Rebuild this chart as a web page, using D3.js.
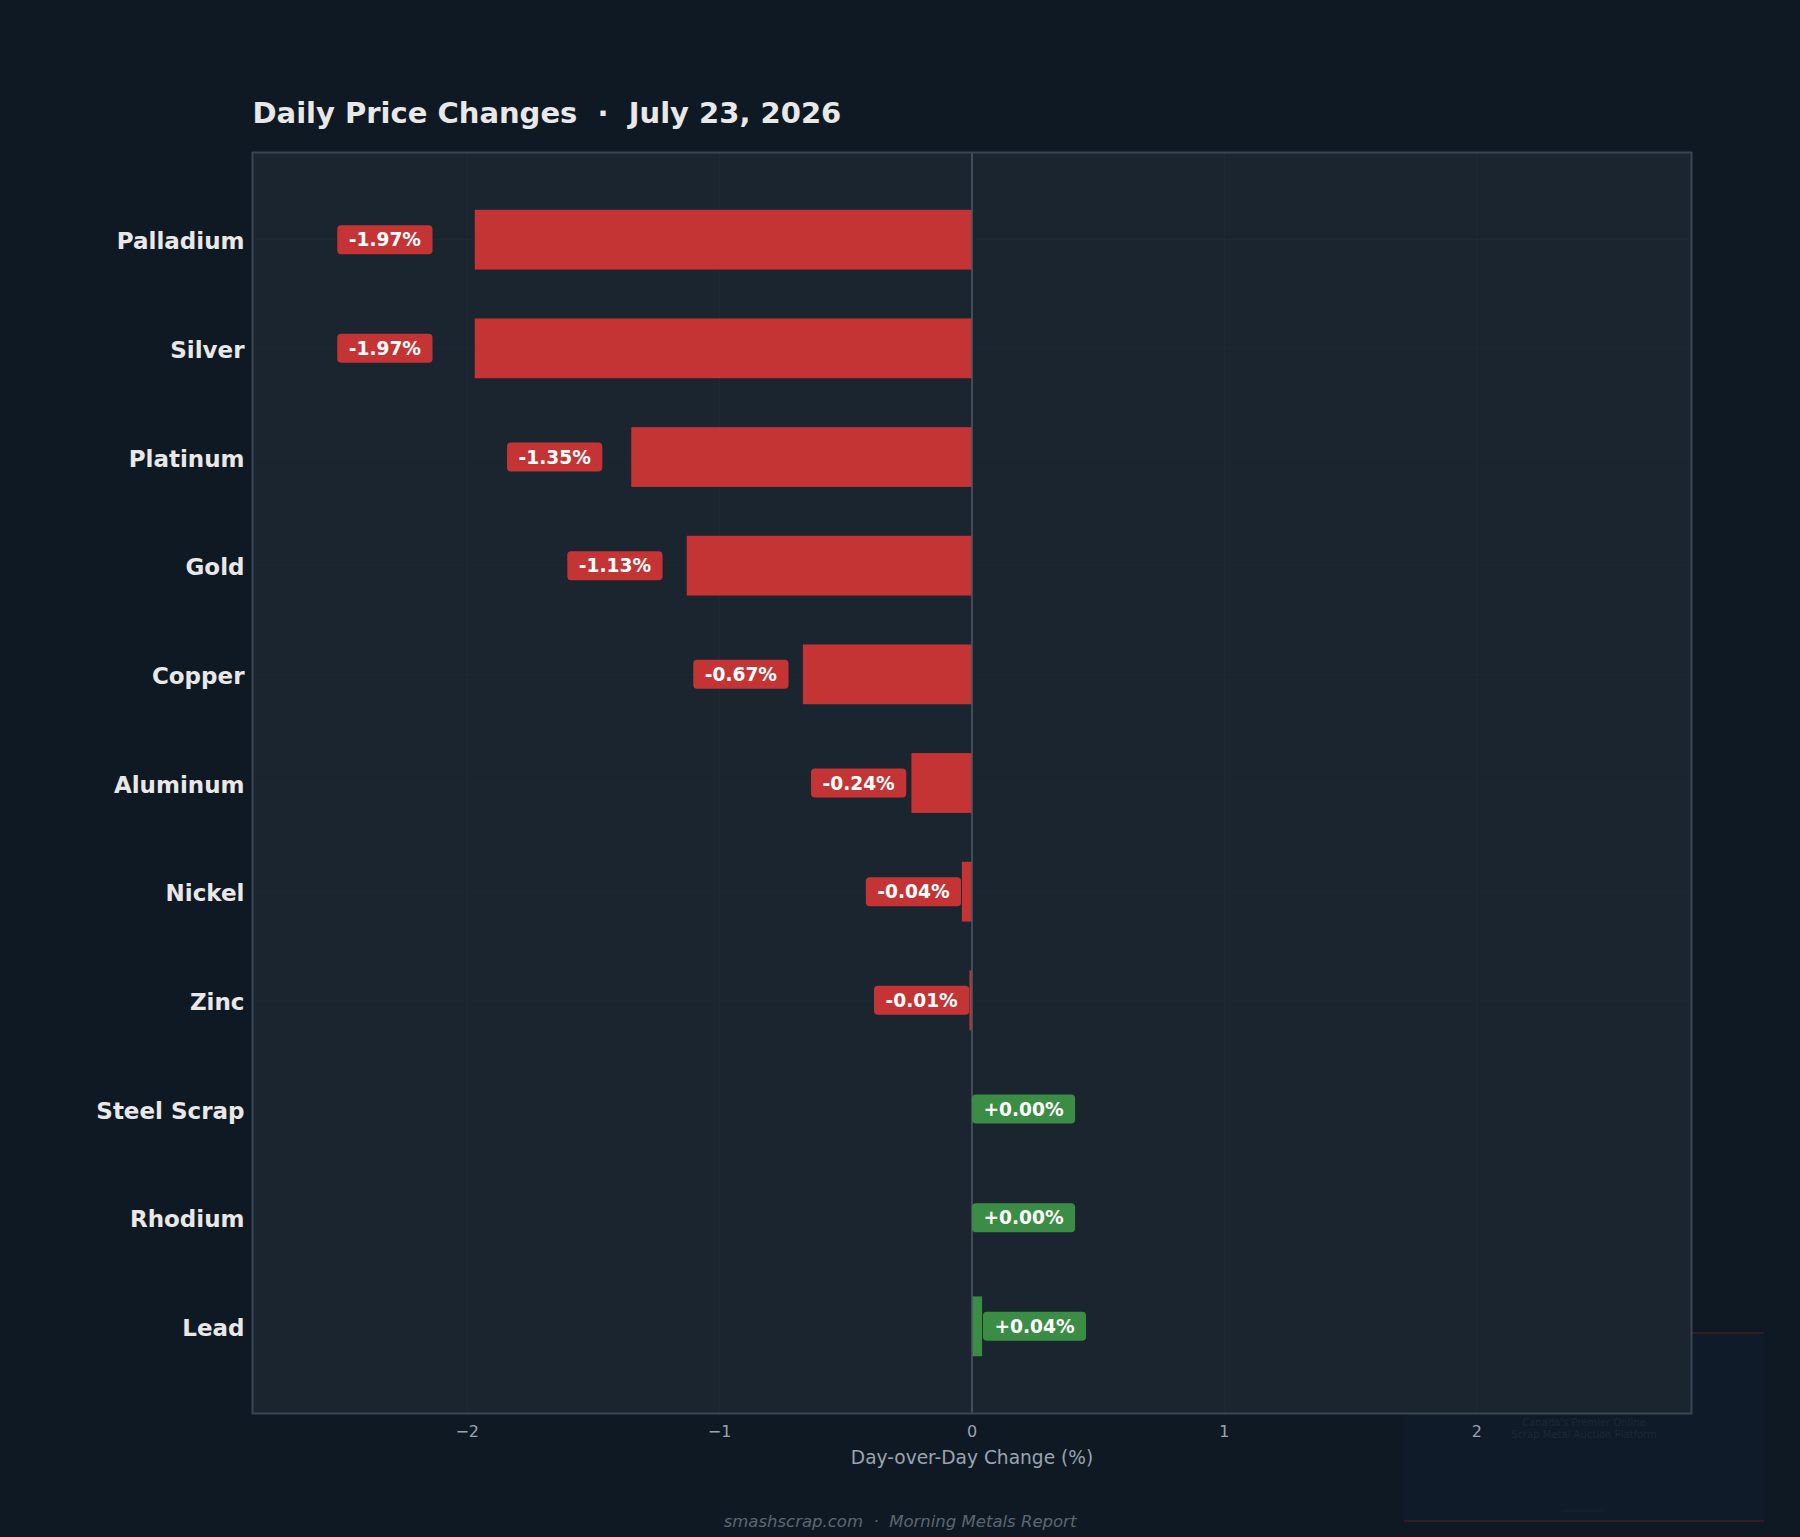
<!DOCTYPE html>
<html>
<head>
<meta charset="utf-8">
<script src="https://cdn.jsdelivr.net/npm/d3@7"></script>
<style>
  body { margin: 0; background: #0f1923; }
  svg { display: block; font-family: "DejaVu Sans", sans-serif; }
</style>
</head>
<body>
<div id="chart"></div>
<script>
// data, top to bottom
const metals = ["Palladium", "Silver", "Platinum", "Gold", "Copper", "Aluminum",
    "Nickel", "Zinc", "Steel Scrap", "Rhodium", "Lead"]
const changes = [-1.97, -1.97, -1.35, -1.13, -0.67, -0.24, -0.04, -0.01, 0.00, 0.00, 0.04]
const xTicks = [-2, -1, 0, 1, 2]
const titleText = "Daily Price Changes  \u00b7  July 23, 2026"
const xLabel = "Day-over-Day Change (%)"
const footerText = "smashscrap.com  \u00b7  Morning Metals Report"

const W = 1800, H = 1537
const margin = { top: 152.5, left: 252.5, right: 108.5, bottom: 123.5 }
const width = W - margin.left - margin.right
const height = H - margin.top - margin.bottom

const RED = "#c53434", GREEN = "#3b8c44"

const svg = d3.select('#chart')
    .append('svg')
    .attr('width', W)
    .attr('height', H)

svg.append('rect').attr('width', W).attr('height', H).attr('fill', '#0f1923')

// faint watermark panel (sits behind the plot)
const wm = svg.append('g')
wm.append('rect')
    .attr('x', 1404).attr('y', 1333).attr('width', 360).attr('height', 188)
    .attr('fill', '#0f1b28')
wm.append('line').attr('x1', 1404).attr('x2', 1764).attr('y1', 1333).attr('y2', 1333)
    .attr('stroke', '#321c26').attr('stroke-width', 2)
wm.append('line').attr('x1', 1404).attr('x2', 1764).attr('y1', 1521).attr('y2', 1521)
    .attr('stroke', '#321c26').attr('stroke-width', 2)
wm.append('text').attr('x', 1584).attr('y', 1426).attr('text-anchor', 'middle')
    .style('font-size', '10px').attr('fill', '#1c2835').text("Canada's Premier Online")
wm.append('text').attr('x', 1584).attr('y', 1438).attr('text-anchor', 'middle')
    .style('font-size', '10px').attr('fill', '#1c2835').text("Scrap Metal Auction Platform")
wm.append('text').attr('x', 1584).attr('y', 1512).attr('text-anchor', 'middle')
    .style('font-size', '5px').attr('fill', '#1c2835').text("smashscrap.com")

const g = svg.append('g')
    .attr('transform', `translate(${margin.left}, ${margin.top})`)

const maxAbs = d3.max(changes, d => Math.abs(d))
const xScale = d3.scaleLinear().domain([-maxAbs * 1.447, maxAbs * 1.447]).range([0, width])
const barH = 0.55
const span = metals.length - 1 + barH
const yScale = d3.scaleLinear()
    .domain([-barH / 2 - 0.05 * span, metals.length - 1 + barH / 2 + 0.05 * span])
    .range([0, height])

// plot background
g.append('rect').attr('width', width).attr('height', height).attr('fill', '#1b2530')

// grid (very faint)
g.append('g').selectAll('line').data(xTicks).join('line')
    .attr('x1', d => xScale(d)).attr('x2', d => xScale(d))
    .attr('y1', 0).attr('y2', height)
    .attr('stroke', '#1f2a34').attr('stroke-width', 1)
g.append('g').selectAll('line').data(metals).join('line')
    .attr('x1', 0).attr('x2', width)
    .attr('y1', (d, i) => yScale(i)).attr('y2', (d, i) => yScale(i))
    .attr('stroke', '#1e2933').attr('stroke-width', 1)

// bars
g.append('g').selectAll('rect').data(changes).join('rect')
    .attr('x', d => xScale(Math.min(0, d)))
    .attr('width', d => Math.abs(xScale(d) - xScale(0)))
    .attr('y', (d, i) => yScale(i - barH / 2))
    .attr('height', yScale(barH) - yScale(0))
    .attr('fill', d => d < 0 ? RED : GREEN)

// zero line
g.append('line')
    .attr('x1', xScale(0)).attr('x2', xScale(0))
    .attr('y1', 0).attr('y2', height)
    .attr('stroke', '#4b5663').attr('stroke-width', 1.6)

// value labels as pills
const fmt = d => (d < 0 ? '-' : '+') + Math.abs(d).toFixed(2) + '%'
const labels = g.append('g').selectAll('g').data(changes).join('g')
labels.each(function (d, i) {
    const lg = d3.select(this)
    const t = lg.append('text')
        .attr('y', yScale(i))
        .attr('dy', '0.36em')
        .style('font-size', '18.6px')
        .style('font-weight', 'bold')
        .attr('fill', '#ffffff')
        .text(fmt(d))
    const tw = t.node().getComputedTextLength()
    const padX = 11.5, boxH = 29
    const edge = xScale(d * 1.085)
    const bx = d < 0 ? edge - tw - 2 * padX : edge
    t.attr('x', bx + padX)
    lg.insert('rect', 'text')
        .attr('x', bx).attr('y', yScale(i) - boxH / 2)
        .attr('width', tw + 2 * padX).attr('height', boxH)
        .attr('rx', 4)
        .attr('fill', d < 0 ? RED : GREEN)
})

// frame
g.append('rect').attr('width', width).attr('height', height)
    .attr('fill', 'none').attr('stroke', '#3a4654').attr('stroke-width', 2)

// y labels
g.append('g').selectAll('text').data(metals).join('text')
    .attr('x', -8)
    .attr('y', (d, i) => yScale(i))
    .attr('dy', '0.42em')
    .attr('text-anchor', 'end')
    .style('font-size', '23px')
    .style('font-weight', 'bold')
    .attr('fill', '#e8e8e8')
    .text(d => d)

// x axis tick labels
g.append('g').selectAll('text').data(xTicks).join('text')
    .attr('x', d => xScale(d))
    .attr('y', height + 23)
    .attr('text-anchor', 'middle')
    .style('font-size', '16px')
    .attr('fill', '#9aa4b0')
    .text(d => d3.format('')(d).replace('-', '\u2212'))

// x label
g.append('text')
    .attr('x', xScale(0))
    .attr('y', height + 50)
    .attr('text-anchor', 'middle')
    .style('font-size', '18.6px')
    .attr('fill', '#9aa4b0')
    .text(xLabel)

// title
svg.append('text')
    .attr('x', margin.left)
    .attr('y', 123)
    .style('font-size', '29px')
    .style('font-weight', 'bold')
    .style('white-space', 'pre')
    .attr('fill', '#e8e8e8')
    .text(titleText)

// footer
svg.append('text')
    .attr('x', W / 2)
    .attr('y', 1527)
    .attr('text-anchor', 'middle')
    .style('font-size', '16.5px')
    .style('font-style', 'italic')
    .style('white-space', 'pre')
    .attr('fill', '#5c6672')
    .text(footerText)
</script>
</body>
</html>
